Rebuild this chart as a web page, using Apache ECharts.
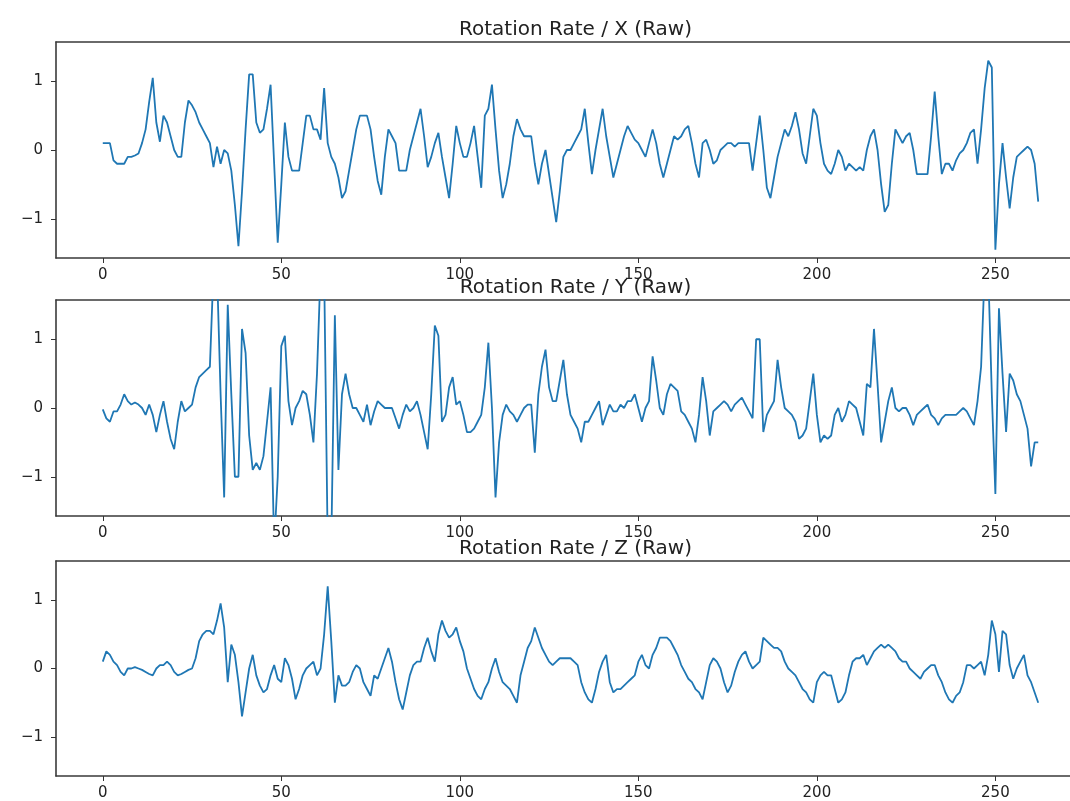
<!DOCTYPE html>
<html>
<head>
<meta charset="utf-8">
<script src="https://cdn.jsdelivr.net/npm/echarts@6/dist/echarts.min.js"></script>
<style>
html,body{margin:0;padding:0;background:#fff;overflow:hidden;width:1070px;height:801px;}
#wrap{position:relative;width:1070px;height:801px;overflow:hidden;}
#chart{position:absolute;left:0;top:0;width:1110px;height:801px;}
</style>
</head>
<body>
<div id="wrap"><div id="chart"></div></div>
<script>
const titles = ['Rotation Rate / X (Raw)', 'Rotation Rate / Y (Raw)', 'Rotation Rate / Z (Raw)'];
const xTicks = [0, 50, 100, 150, 200, 250];
const yTicks = [-1, 0, 1];

const rotX = [
 0.1,0.1,0.1,-0.15,-0.2,-0.2,-0.2,-0.1,-0.1,-0.08,
 -0.05,0.1,0.3,0.7,1.05,0.4,0.12,0.5,0.4,0.2,
 0.0,-0.1,-0.1,0.4,0.72,0.65,0.55,0.4,0.3,0.2,
 0.1,-0.25,0.05,-0.2,0.0,-0.05,-0.3,-0.8,-1.4,-0.6,
 0.3,1.1,1.1,0.4,0.25,0.3,0.6,0.95,-0.2,-1.35,
 -0.5,0.4,-0.1,-0.3,-0.3,-0.3,0.1,0.5,0.5,0.3,
 0.3,0.15,0.9,0.1,-0.1,-0.2,-0.4,-0.7,-0.6,-0.3,
 0.0,0.3,0.5,0.5,0.5,0.3,-0.1,-0.45,-0.65,-0.1,
 0.3,0.2,0.1,-0.3,-0.3,-0.3,0.0,0.2,0.4,0.6,
 0.2,-0.25,-0.1,0.1,0.25,-0.1,-0.4,-0.7,-0.2,0.35,
 0.1,-0.1,-0.1,0.1,0.35,-0.1,-0.55,0.5,0.6,0.95,
 0.3,-0.3,-0.7,-0.5,-0.2,0.2,0.45,0.3,0.2,0.2,
 0.2,-0.2,-0.5,-0.2,0.0,-0.35,-0.7,-1.05,-0.6,-0.1,
 0.0,0.0,0.1,0.2,0.3,0.6,0.1,-0.35,0.0,0.3,
 0.6,0.2,-0.1,-0.4,-0.2,0.0,0.2,0.35,0.25,0.15,
 0.1,0.0,-0.1,0.1,0.3,0.1,-0.2,-0.4,-0.2,0.0,
 0.2,0.15,0.2,0.3,0.35,0.1,-0.2,-0.4,0.1,0.15,
 0.0,-0.2,-0.15,0.0,0.05,0.1,0.1,0.05,0.1,0.1,
 0.1,0.1,-0.3,0.1,0.5,0.0,-0.55,-0.7,-0.4,-0.1,
 0.1,0.3,0.2,0.35,0.55,0.3,-0.05,-0.2,0.2,0.6,
 0.5,0.1,-0.2,-0.3,-0.35,-0.2,0.0,-0.1,-0.3,-0.2,
 -0.25,-0.3,-0.25,-0.3,0.0,0.2,0.3,0.0,-0.5,-0.9,
 -0.8,-0.2,0.3,0.2,0.1,0.2,0.25,0.0,-0.35,-0.35,
 -0.35,-0.35,0.2,0.85,0.2,-0.35,-0.2,-0.2,-0.3,-0.15,
 -0.05,0.0,0.1,0.25,0.3,-0.2,0.3,0.9,1.3,1.2,
 -1.45,-0.5,0.1,-0.4,-0.85,-0.4,-0.1,-0.05,0.0,0.05,
 0.0,-0.2,-0.75
];

const rotY = [
 -0.02,-0.15,-0.2,-0.05,-0.05,0.05,0.2,0.1,0.05,0.08,
 0.05,0.0,-0.1,0.05,-0.1,-0.35,-0.1,0.1,-0.2,-0.45,
 -0.6,-0.2,0.1,-0.05,0.0,0.05,0.3,0.45,0.5,0.55,
 0.6,2.0,2.0,0.2,-1.3,1.5,0.2,-1.0,-1.0,1.15,
 0.8,-0.4,-0.9,-0.8,-0.9,-0.7,-0.2,0.3,-2.0,-1.0,
 0.9,1.05,0.1,-0.25,0.0,0.1,0.25,0.2,-0.1,-0.5,
 0.5,2.0,2.0,-2.0,-2.0,1.35,-0.9,0.2,0.5,0.2,
 0.0,0.0,-0.1,-0.2,0.05,-0.25,-0.05,0.1,0.05,0.0,
 0.0,0.0,-0.15,-0.3,-0.1,0.05,-0.05,0.0,0.1,-0.1,
 -0.35,-0.6,0.2,1.2,1.05,-0.2,-0.1,0.3,0.45,0.05,
 0.1,-0.1,-0.35,-0.35,-0.3,-0.2,-0.1,0.3,0.95,0.0,
 -1.3,-0.5,-0.1,0.05,-0.05,-0.1,-0.2,-0.1,0.0,0.05,
 0.05,-0.65,0.2,0.6,0.85,0.3,0.1,0.1,0.4,0.7,
 0.2,-0.1,-0.2,-0.3,-0.5,-0.2,-0.2,-0.1,0.0,0.1,
 -0.25,-0.1,0.05,-0.05,-0.05,0.05,0.0,0.1,0.1,0.2,
 0.0,-0.2,0.0,0.1,0.75,0.4,0.0,-0.1,0.2,0.35,
 0.3,0.25,-0.05,-0.1,-0.2,-0.3,-0.5,-0.1,0.45,0.1,
 -0.4,-0.05,0.0,0.05,0.1,0.05,-0.05,0.05,0.1,0.15,
 0.05,-0.05,-0.15,1.0,1.0,-0.35,-0.1,0.0,0.1,0.7,
 0.3,0.0,-0.05,-0.1,-0.2,-0.45,-0.4,-0.3,0.1,0.5,
 -0.1,-0.5,-0.4,-0.45,-0.4,-0.1,0.0,-0.2,-0.1,0.1,
 0.05,0.0,-0.2,-0.4,0.35,0.3,1.15,0.35,-0.5,-0.2,
 0.1,0.3,0.0,-0.05,0.0,0.0,-0.1,-0.25,-0.1,-0.05,
 0.0,0.05,-0.1,-0.15,-0.25,-0.15,-0.1,-0.1,-0.1,-0.1,
 -0.05,0.0,-0.05,-0.15,-0.25,0.1,0.6,2.0,2.0,0.2,
 -1.25,1.45,0.5,-0.35,0.5,0.4,0.2,0.1,-0.1,-0.3,
 -0.85,-0.5,-0.5
];

const rotZ = [
 0.1,0.25,0.2,0.1,0.05,-0.05,-0.1,0.0,0.0,0.02,
 0.0,-0.02,-0.05,-0.08,-0.1,0.0,0.05,0.05,0.1,0.05,
 -0.05,-0.1,-0.08,-0.05,-0.02,0.0,0.15,0.4,0.5,0.55,
 0.55,0.5,0.7,0.95,0.6,-0.2,0.35,0.2,-0.2,-0.7,
 -0.35,0.0,0.2,-0.1,-0.25,-0.35,-0.3,-0.1,0.05,-0.15,
 -0.2,0.15,0.05,-0.15,-0.45,-0.3,-0.1,0.0,0.05,0.1,
 -0.1,0.0,0.5,1.2,0.4,-0.5,-0.1,-0.25,-0.25,-0.2,
 -0.05,0.05,0.0,-0.2,-0.3,-0.4,-0.1,-0.15,0.0,0.15,
 0.3,0.1,-0.2,-0.45,-0.6,-0.35,-0.1,0.05,0.1,0.1,
 0.3,0.45,0.25,0.1,0.5,0.7,0.55,0.45,0.5,0.6,
 0.4,0.25,0.0,-0.15,-0.3,-0.4,-0.45,-0.3,-0.2,0.0,
 0.15,-0.05,-0.2,-0.25,-0.3,-0.4,-0.5,-0.1,0.1,0.3,
 0.4,0.6,0.45,0.3,0.2,0.1,0.05,0.1,0.15,0.15,
 0.15,0.15,0.1,0.05,-0.2,-0.35,-0.45,-0.5,-0.3,-0.05,
 0.1,0.2,-0.2,-0.35,-0.3,-0.3,-0.25,-0.2,-0.15,-0.1,
 0.1,0.2,0.05,0.0,0.2,0.3,0.45,0.45,0.45,0.4,
 0.3,0.2,0.05,-0.05,-0.15,-0.2,-0.3,-0.35,-0.45,-0.2,
 0.05,0.15,0.1,0.0,-0.2,-0.35,-0.25,-0.05,0.1,0.2,
 0.25,0.1,0.0,0.05,0.1,0.45,0.4,0.35,0.3,0.3,
 0.25,0.1,0.0,-0.05,-0.1,-0.2,-0.3,-0.35,-0.45,-0.5,
 -0.2,-0.1,-0.05,-0.1,-0.1,-0.3,-0.5,-0.45,-0.35,-0.1,
 0.1,0.15,0.15,0.2,0.05,0.15,0.25,0.3,0.35,0.3,
 0.35,0.3,0.25,0.15,0.1,0.1,0.0,-0.05,-0.1,-0.15,
 -0.05,0.0,0.05,0.05,-0.1,-0.2,-0.35,-0.45,-0.5,-0.4,
 -0.35,-0.2,0.05,0.05,0.0,0.05,0.1,-0.1,0.2,0.7,
 0.5,-0.05,0.55,0.5,0.05,-0.15,0.0,0.1,0.2,-0.1,
 -0.2,-0.35,-0.5
];

const seriesList = [rotX, rotY, rotZ];
const gridTops = [42, 300, 561];
const gridHeight = 216;
const LEFT = 56, WIDTH = 1029;
const YLIM = Math.PI / 2;
const N = rotX.length;
const XMIN = -0.05 * (N - 1), XMAX = (N - 1) * 1.05;
const FONT = '"DejaVu Sans", sans-serif';
const SPINE = {show: true, onZero: false, lineStyle: {color: '#3a3a3a', width: 1.6}};
const fmtNum = v => (v < 0 ? '\u2212' + Math.abs(v) : String(v));

const grids = [], xAxes = [], yAxes = [], series = [], titleList = [];
seriesList.forEach((vals, k) => {
  grids.push({left: LEFT, top: gridTops[k], width: WIDTH, height: gridHeight, show: false});
  xAxes.push({type: 'value', gridIndex: k, min: XMIN, max: XMAX, position: 'bottom',
    axisLine: SPINE,
    axisTick: {show: true, length: 5, lineStyle: {color: '#333'}, customValues: xTicks},
    axisLabel: {show: true, customValues: xTicks, margin: 10, color: '#222',
      fontFamily: FONT, fontSize: 15, formatter: v => fmtNum(v)},
    splitLine: {show: false}});
  xAxes.push({type: 'value', gridIndex: k, min: XMIN, max: XMAX, position: 'top',
    axisLine: SPINE, axisTick: {show: false}, axisLabel: {show: false},
    splitLine: {show: false}});
  yAxes.push({type: 'value', gridIndex: k, min: -YLIM, max: YLIM, position: 'left',
    axisLine: SPINE,
    axisTick: {show: true, length: 5, lineStyle: {color: '#333'}, customValues: yTicks},
    axisLabel: {show: true, customValues: yTicks, margin: 13, color: '#222',
      fontFamily: FONT, fontSize: 15, formatter: v => fmtNum(v)},
    splitLine: {show: false}});
  series.push({type: 'line', xAxisIndex: 2 * k, yAxisIndex: k,
    data: vals.map((v, i) => [i, v]),
    showSymbol: false, symbol: 'none', clip: true,
    lineStyle: {color: '#1f77b4', width: 1.8}, animation: false});
  titleList.push({text: titles[k], left: LEFT + WIDTH / 2, top: gridTops[k] - 27,
    textAlign: 'center',
    textStyle: {fontFamily: FONT, fontSize: 20, fontWeight: 'normal', color: '#222'}});
});

const chart = echarts.init(document.getElementById('chart'), null, {renderer: 'canvas'});
chart.setOption({
  backgroundColor: '#fff',
  animation: false,
  title: titleList,
  grid: grids,
  xAxis: xAxes,
  yAxis: yAxes,
  series: series
});
</script>
</body>
</html>
